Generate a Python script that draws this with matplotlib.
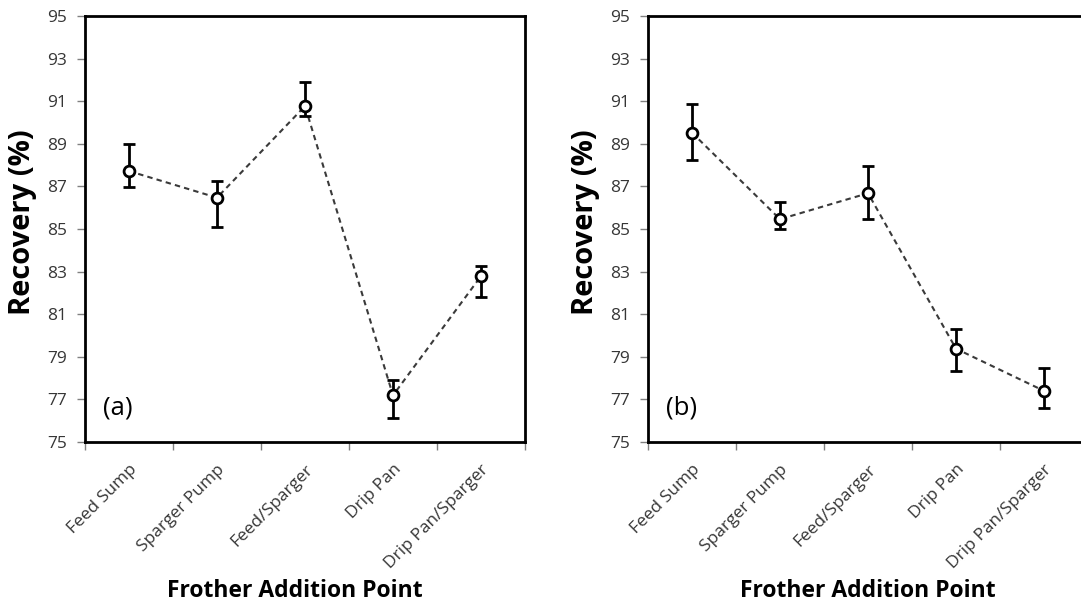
import matplotlib
matplotlib.use("Agg")
import matplotlib.pyplot as plt
import matplotlib.transforms as mtransforms
import numpy as np

# Frother addition points
categories = ["Feed Sump", "Sparger Pump", "Feed/Sparger", "Drip Pan", "Drip Pan/Sparger"]

# Panel (a): recovery with asymmetric error bounds
rec_a = [87.72, 86.47, 90.77, 77.19, 82.79]
hi_a = [88.98, 87.25, 91.90, 77.90, 83.26]
lo_a = [86.99, 85.11, 90.31, 76.11, 81.82]

# Panel (b)
rec_b = [89.52, 85.46, 86.68, 79.38, 77.40]
hi_b = [90.89, 86.25, 87.96, 80.32, 78.46]
lo_b = [88.26, 85.00, 85.46, 78.34, 76.58]

y_ticks = [75, 77, 79, 81, 83, 85, 87, 89, 91, 93, 95]
panel_tags = ["(a)", "(b)"]

FONT = "Open Sans"
plt.rcParams["font.family"] = [FONT, "DejaVu Sans"]

fig = plt.figure(figsize=(10.81, 6.06), dpi=100)
W, H = 1081, 606
ax_a = fig.add_axes([85 / W, 1 - 442 / H, 440 / W, 426 / H])
ax_b = fig.add_axes([648 / W, 1 - 442 / H, 440 / W, 426 / H])

TICK_GREY = "#363636"


def draw(ax, rec, hi, lo, tag, xlabel_x):
    x = np.arange(len(categories))
    rec = np.asarray(rec)
    yerr = [rec - np.asarray(lo), np.asarray(hi) - rec]
    ax.plot(x, rec, linestyle=(0, (2.6, 2.0)), color="#3a3a3a", lw=1.5, zorder=2)
    ax.errorbar(x, rec, yerr=yerr, fmt="none", ecolor="black", elinewidth=2,
                capsize=4, capthick=2, zorder=3)
    ax.plot(x, rec, "o", ms=7.8, mfc="white", mec="black", mew=2.0, zorder=4)

    ax.set_xlim(-0.5, len(categories) - 0.5)
    ax.set_ylim(75, 95)
    ax.set_yticks(y_ticks)
    ax.set_yticklabels([str(v) for v in y_ticks], fontsize=12.5, color=TICK_GREY)
    ax.set_xticks(np.arange(len(categories) + 1) - 0.5)
    ax.set_xticklabels([])
    ax.set_xticks(x, minor=True)
    labels = ax.set_xticklabels(categories, minor=True, rotation=45, ha="right",
                                rotation_mode="anchor", fontsize=12.5,
                                color=TICK_GREY)
    shift = mtransforms.ScaledTranslation(-8 / 100, 0, fig.dpi_scale_trans)
    for lab in labels:
        lab.set_transform(lab.get_transform() + shift)
    ax.tick_params(axis="x", which="minor", length=0, pad=14)
    ax.tick_params(axis="both", which="major", direction="out", length=6,
                   width=1, color="#808080", pad=7)
    for s in ax.spines.values():
        s.set_linewidth(2)
        s.set_color("black")
    ax.set_ylabel("Recovery (%)", fontsize=21, fontweight="bold")
    ax.yaxis.set_label_coords(-0.108, 0.515)
    ax.set_xlabel("Frother Addition Point", fontsize=16.5, fontweight="bold",
                  va="center")
    ax.xaxis.set_label_coords(xlabel_x, -0.35)
    ax.text(0.04, 0.08, tag, transform=ax.transAxes, fontsize=18.5,
            va="center", ha="left", color="black")


draw(ax_a, rec_a, hi_a, lo_a, panel_tags[0], 0.476)
draw(ax_b, rec_b, hi_b, lo_b, panel_tags[1], 0.5)

fig.savefig("out.png", dpi=100)
